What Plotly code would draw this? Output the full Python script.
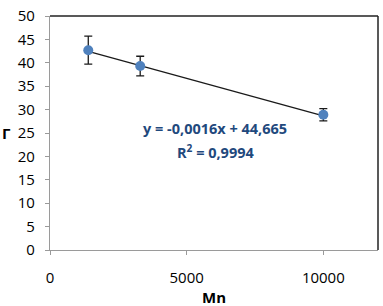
import plotly.graph_objects as go

mn = [1400, 3300, 10000]
gamma = [42.7, 39.3, 28.9]
err = [3.0, 2.1, 1.3]
slope = -0.0016
intercept = 44.665
fit_x = [1400, 10000]
fit_y = [slope * v + intercept for v in fit_x]
x_ticks = [0, 5000, 10000]
x_tick_labels = ["0", "5000", "10000"]
y_ticks = [0, 5, 10, 15, 20, 25, 30, 35, 40, 45, 50]
y_tick_labels = [str(v) for v in y_ticks]

fig = go.Figure()
fig.add_trace(go.Scatter(x=fit_x, y=fit_y, mode="lines",
                         line=dict(color="#1a1a1a", width=1.3), showlegend=False))
fig.add_trace(go.Scatter(x=mn, y=gamma, mode="markers",
                         marker=dict(color="#4F81BD", size=10),
                         error_y=dict(type="data", array=err, color="#1a1a1a",
                                      thickness=1.3, width=4),
                         showlegend=False))

font_family = "Open Sans, Liberation Sans, sans-serif"
L, R, T, B = 50, 5, 9, 56
W, H = 383, 306
pw, ph = W - L - R, H - T - B

fig.update_layout(
    width=W, height=H,
    margin=dict(l=L, r=R, t=T, b=B),
    paper_bgcolor="white", plot_bgcolor="white",
    font=dict(family=font_family, size=15, color="#000000"),
    xaxis=dict(range=[0, 12000], tickvals=x_ticks, ticktext=x_tick_labels,
               showgrid=False, zeroline=False,
               showline=True, linecolor="#9a9a9a", linewidth=1.2,
               ticks="outside", ticklen=4, tickcolor="#9a9a9a",
               ticklabelstandoff=10, ticklabeloverflow="allow",
               tickfont=dict(size=15)),
    yaxis=dict(range=[0, 50.001], tickvals=y_ticks, ticktext=y_tick_labels,
               showgrid=False, zeroline=False,
               showline=True, linecolor="#9a9a9a", linewidth=1.2,
               ticks="outside", ticklen=4, tickcolor="#9a9a9a",
               ticklabelstandoff=7, ticklabeloverflow="allow",
               tickfont=dict(size=15)),
    shapes=[
        dict(type="line", xref="paper", yref="paper", x0=0, x1=1, y0=1, y1=1,
             line=dict(color="#222222", width=1.5)),
        dict(type="line", xref="paper", yref="paper", x0=1, x1=1, y0=0, y1=1,
             line=dict(color="#222222", width=1.5)),
    ],
    annotations=[
        dict(x=6044, y=25.9, xref="x", yref="y", showarrow=False,
             xanchor="center", yanchor="middle",
             text="<b>y = -0,0016x + 44,665</b>",
             font=dict(size=14.5, color="#1F497D")),
        dict(x=6044, y=21.1, xref="x", yref="y", showarrow=False,
             xanchor="center", yanchor="middle",
             text="<b>R<sup>2</sup> = 0,9994</b>",
             font=dict(size=14.5, color="#1F497D")),
        dict(x=-(L - 6.5) / pw, y=(H - B - 130) / ph, xref="paper", yref="paper",
             xanchor="center", yanchor="middle",
             showarrow=False, text="<b>Γ</b>", font=dict(size=15)),
        dict(x=0.5, y=-(298 - (H - B)) / ph, xref="paper", yref="paper",
             xanchor="center", yanchor="middle",
             showarrow=False, text="<b>Mn</b>", font=dict(size=15)),
    ],
)
fig.write_html("out.html", config={"displayModeBar": False},
               post_script="document.body.style.margin='0';")
